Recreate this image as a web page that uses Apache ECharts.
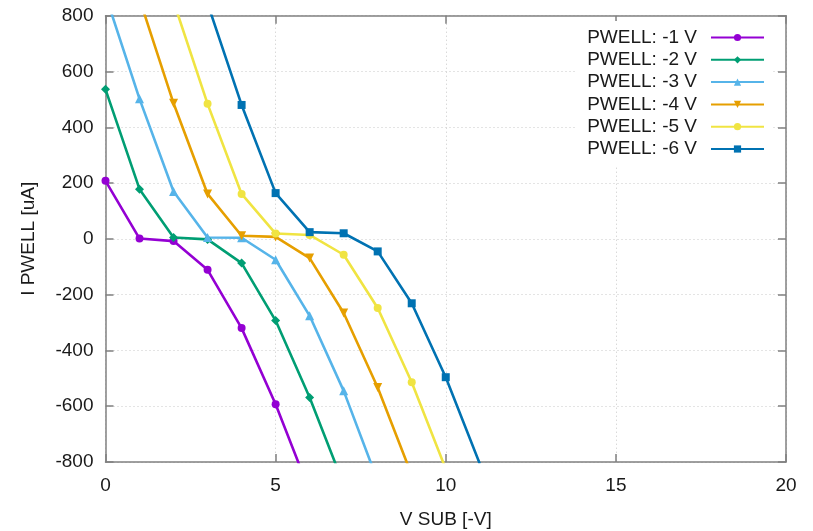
<!DOCTYPE html>
<html>
<head>
<meta charset="utf-8">
<script src="https://cdn.jsdelivr.net/npm/echarts@6/dist/echarts.min.js"></script>
<style>
  html, body { margin: 0; padding: 0; background: #fff; }
  #chart { width: 813px; height: 531px; }
</style>
</head>
<body>
<div id="chart"></div>
<script>
// Substrate voltage sweep (V SUB, in -V)
const vsub = [0, 1, 2, 3, 4, 5, 6, 7, 8, 9, 10, 11];

// PWELL current [uA] per PWELL bias; null where no sample was taken
const pwell1 = [208, 1, -8, -111, -320, -593, -905, null, null, null, null, null];
const pwell2 = [536, 178, 5, -2, -87, -293, -569, -881, null, null, null, null];
const pwell3 = [874, 502, 170, 5, 4, -75, -276, -545, -868, null, null, null];
const pwell4 = [null, 860, 486, 161, 11, 7, -69, -266, -533, -847, null, null];
const pwell5 = [null, null, 851, 484, 161, 19, 14, -57, -248, -514, -825, null];
const pwell6 = [null, null, null, 844, 480, 164, 24, 20, -45, -231, -496, -806];

const seriesNames = ['PWELL: -1 V', 'PWELL: -2 V', 'PWELL: -3 V', 'PWELL: -4 V', 'PWELL: -5 V', 'PWELL: -6 V'];
const seriesValues = [pwell1, pwell2, pwell3, pwell4, pwell5, pwell6];

const xTicks = [0, 5, 10, 15, 20];
const yTicks = [-800, -600, -400, -200, 0, 200, 400, 600, 800];

const colors = ['#9400d3', '#009e73', '#56b4e9', '#e69f00', '#f0e442', '#0072b2'];
const symbols = ['circle', 'diamond', 'triangle', 'triangle', 'circle', 'rect'];
const symbolRot = [0, 0, 0, 180, 0, 0];
const symbolSizes = [8, 9, 9, 9, 8, 8];

const FONT = 'Liberation Sans, Arial, sans-serif';
const FONT_SIZE = 19;
const AXIS_COLOR = '#808080';
const TEXT_COLOR = '#1a1a1a';

function pairs(values) {
  const out = [];
  values.forEach((v, i) => { if (v !== null) out.push([vsub[i], v]); });
  return out;
}

const chart = echarts.init(document.getElementById('chart'), null, { renderer: 'canvas' });

const xMin = xTicks[0], xMax = xTicks[xTicks.length - 1];
const yMin = yTicks[0], yMax = yTicks[yTicks.length - 1];

const frameAxis = {
  axisLine: { show: true, onZero: false, lineStyle: { color: AXIS_COLOR, width: 1.5 } },
  axisTick: { show: true, inside: true, length: 8, lineStyle: { color: AXIS_COLOR, width: 1.5 } }
};
const gridLine = { show: true, lineStyle: { color: '#c8c8c8', width: 1, type: [1, 3] } };

const option = {
  backgroundColor: '#fff',
  animation: false,
  grid: { left: 105.5, right: 27, top: 15.7, bottom: 69, containLabel: false, outerBoundsMode: 'none' },
  legend: {
    orient: 'vertical',
    right: 40,
    top: 21,
    align: 'right',
    itemWidth: 53,
    itemHeight: 9,
    itemGap: 3.3,
    backgroundColor: '#fff',
    padding: [7, 8, 7, 12],
    textStyle: { fontFamily: FONT, fontSize: FONT_SIZE, color: TEXT_COLOR, lineHeight: 19, padding: [0, 9, 0, 0] },
    data: seriesNames
  },
  xAxis: [
    Object.assign({
      type: 'value', min: xMin, max: xMax, interval: 5,
      name: 'V SUB [-V]', nameLocation: 'middle', nameGap: 48.5,
      nameTextStyle: { fontFamily: FONT, fontSize: FONT_SIZE, color: TEXT_COLOR },
      axisLabel: { fontFamily: FONT, fontSize: FONT_SIZE, color: TEXT_COLOR, margin: 14.5 },
      splitLine: gridLine
    }, frameAxis),
    Object.assign({
      type: 'value', min: xMin, max: xMax, interval: 5, position: 'top',
      axisLabel: { show: false },
      splitLine: { show: false }
    }, frameAxis)
  ],
  yAxis: [
    Object.assign({
      type: 'value', min: yMin, max: yMax, interval: 200,
      name: 'I PWELL [uA]', nameLocation: 'middle', nameGap: 67, nameRotate: 90,
      nameTextStyle: { fontFamily: FONT, fontSize: FONT_SIZE, color: TEXT_COLOR },
      axisLabel: { fontFamily: FONT, fontSize: FONT_SIZE, color: TEXT_COLOR, margin: 12 },
      splitLine: gridLine
    }, frameAxis),
    Object.assign({
      type: 'value', min: yMin, max: yMax, interval: 200, position: 'right',
      axisLabel: { show: false },
      splitLine: { show: false }
    }, frameAxis)
  ],
  series: seriesNames.map((name, i) => ({
    name: name,
    type: 'line',
    xAxisIndex: 0,
    yAxisIndex: 0,
    data: pairs(seriesValues[i]),
    clip: true,
    color: colors[i],
    lineStyle: { width: 2.6, color: colors[i] },
    itemStyle: { color: colors[i] },
    symbol: symbols[i],
    symbolRotate: symbolRot[i],
    symbolSize: symbolSizes[i],
    showSymbol: true,
    z: 2
  }))
};

chart.setOption(option);
</script>
</body>
</html>
